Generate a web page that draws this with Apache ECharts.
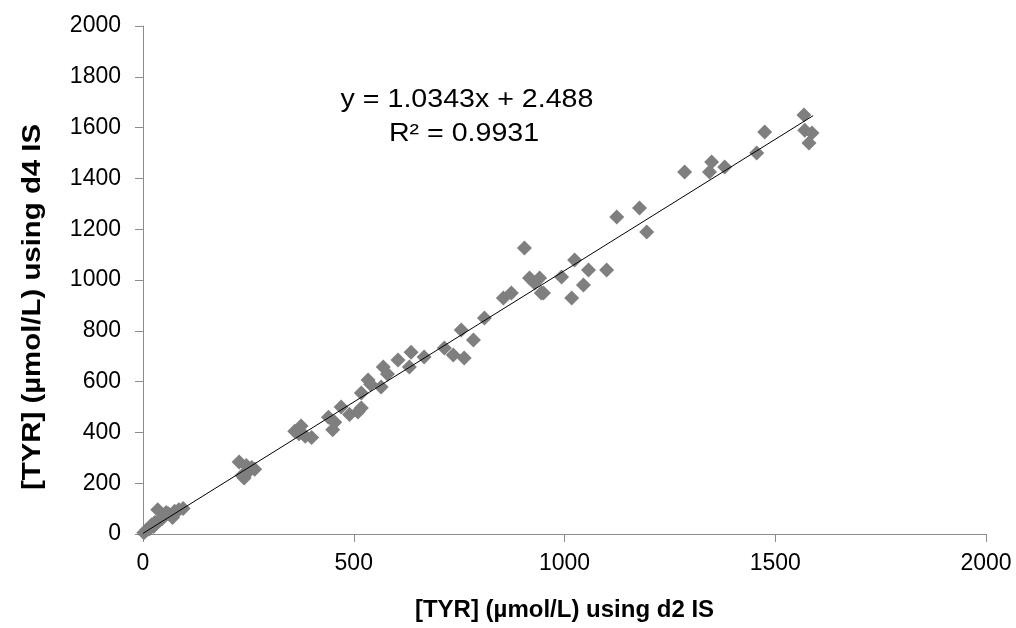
<!DOCTYPE html>
<html>
<head>
<meta charset="utf-8">
<script src="https://cdn.jsdelivr.net/npm/echarts@6/dist/echarts.min.js"></script>
<style>html,body{margin:0;padding:0;background:#fff}#c{width:1016px;height:628px}</style>
</head>
<body>
<div id="c"></div>
<script>
// Data
var d2Values = [2,8,15,20,25,28,35,40,45,50,55,60,70,75,85,95,
  228,235,240,245,250,258,265,
  360,370,375,385,400,
  440,450,455,470,490,510,518,518,534,540,565,570,580,605,632,636,667,715,736,755,762,784,810,
  855,874,905,917,929,941,945,950,993,1017,1024,1045,1057,1100,1124,1178,1195,
  1285,1344,1349,1380,1456,1475,1568,1570,1580,1587];
var d4Values = [5,15,20,35,30,45,95,55,60,70,85,80,65,90,95,100,
  283,230,220,270,245,262,255,
  405,395,425,385,380,
  460,410,440,500,470,480,496,555,606,590,579,657,630,685,657,716,697,732,705,803,693,764,850,
  929,949,1126,1008,988,1008,949,949,1012,929,1079,980,1039,1039,1248,1283,1189,
  1425,1425,1465,1445,1500,1583,1650,1590,1539,1579];
var trendX = [0, 1590];
var trendY = [2.5, 1647];
var xTicks = [0, 500, 1000, 1500, 2000];
var yTicks = [0, 200, 400, 600, 800, 1000, 1200, 1400, 1600, 1800, 2000];
var eqText = 'y = 1.0343x + 2.488';
var r2Text = 'R² = 0.9931';
var xTitle = '[TYR] (µmol/L) using d2 IS';
var yTitle = '[TYR] (µmol/L) using d4 IS';

var pts = d2Values.map(function(x, i){ return [x, d4Values[i]]; });
var trend = trendX.map(function(x, i){ return [x, trendY[i]]; });

var chart = echarts.init(document.getElementById('c'));
var font = '"Liberation Sans", Arial, sans-serif';
var axisColor = '#8c8c8c';
function plain(v){ return String(v); }
chart.setOption({
  animation: false,
  backgroundColor: '#fff',
  grid: {left: 143, right: 30, top: 26, bottom: 94},
  xAxis: {
    type: 'value', min: xTicks[0], max: xTicks[xTicks.length-1], interval: 500,
    name: xTitle, nameLocation: 'middle', nameGap: 64,
    nameTextStyle: {fontFamily: font, fontSize: 24, fontWeight: 'bold', color: '#000'},
    axisLine: {show: true, lineStyle: {color: axisColor, width: 1}},
    axisTick: {show: true, length: 8, lineStyle: {color: axisColor}},
    axisLabel: {fontFamily: font, fontSize: 23, color: '#000', margin: 18, formatter: plain},
    splitLine: {show: false}
  },
  yAxis: {
    type: 'value', min: yTicks[0], max: yTicks[yTicks.length-1], interval: 200,
    axisLine: {show: true, lineStyle: {color: axisColor, width: 1}},
    axisTick: {show: true, length: 8, lineStyle: {color: axisColor}},
    axisLabel: {fontFamily: font, fontSize: 23, color: '#000', margin: 22, formatter: plain},
    splitLine: {show: false}
  },
  series: [
    {type: 'scatter', data: pts, symbol: 'diamond', symbolSize: [15, 15],
     itemStyle: {color: '#7f7f7f', opacity: 1}, z: 2},
    {type: 'line', data: trend, showSymbol: false, symbol: 'none',
     lineStyle: {color: '#000', width: 1}, z: 3}
  ],
  graphic: [
    {type: 'text', x: 467, y: 100, scaleX: 1.1, style: {text: eqText, font: '26px ' + font, fill: '#000', textAlign: 'center', textVerticalAlign: 'middle'}},
    {type: 'text', x: 464, y: 134, scaleX: 1.1, style: {text: r2Text, font: '26px ' + font, fill: '#000', textAlign: 'center', textVerticalAlign: 'middle'}},
    {type: 'text', x: 33, y: 307, rotation: Math.PI / 2, scaleX: 1.13, style: {text: yTitle, font: 'bold 26px ' + font, fill: '#000', textAlign: 'center', textVerticalAlign: 'middle'}}
  ]
});
</script>
</body>
</html>
